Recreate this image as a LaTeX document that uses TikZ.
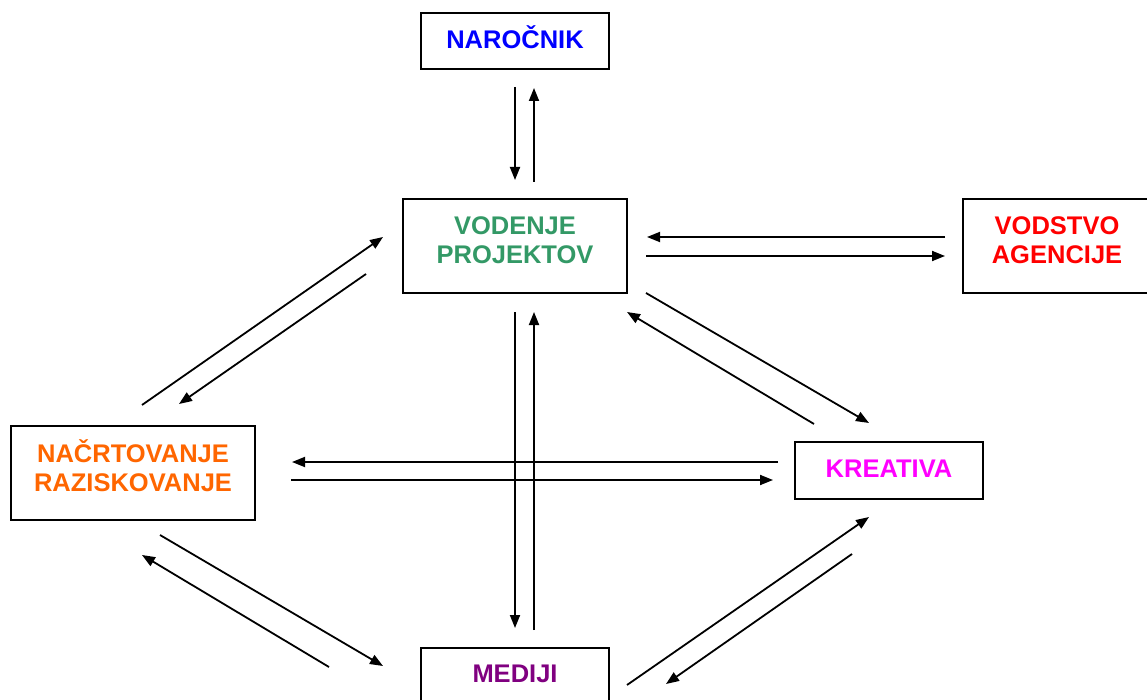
\documentclass[tikz,border=0pt]{standalone}
\usepackage{fontspec}
\setmainfont{Liberation Sans}
\usetikzlibrary{arrows.meta}
\definecolor{cblue}{HTML}{0000FF}
\definecolor{cgreen}{HTML}{339966}
\definecolor{cred}{HTML}{FF0000}
\definecolor{corange}{HTML}{FF6600}
\definecolor{cmagenta}{HTML}{FF00FF}
\definecolor{cpurple}{HTML}{800080}
\tikzset{
  box/.style={draw=black, line width=1.8pt, rectangle, inner sep=0pt, align=center,
    font=\fontsize{25.5}{29}\selectfont\bfseries, text height=18.3pt},
  twoline/.style={text height=47.3pt},
  arr/.style={line width=1.8pt, -{Triangle[length=13pt,width=10pt]}}
}
\begin{document}
\begin{tikzpicture}[x=1pt,y=-1pt]
\useasboundingbox (0,0) rectangle (1147,700);
\fill[white] (0,0) rectangle (1147,700);
% boxes
\node[box, text=cblue, minimum width=188pt, minimum height=56pt, text depth=3.6pt] (nar) at (515,41) {NAROČNIK};
\node[box, twoline, text=cgreen, minimum width=224pt, minimum height=94pt, text depth=11.3pt] (vod) at (515,246) {VODENJE\\PROJEKTOV};
\node[box, twoline, text=cred, minimum width=188pt, minimum height=94pt, text depth=11.3pt] (agn) at (1057,246) {VODSTVO\\AGENCIJE};
\node[box, twoline, text=corange, minimum width=244pt, minimum height=94pt, text depth=9.9pt] (nac) at (133,473) {NAČRTOVANJE\\RAZISKOVANJE};
\node[box, text=cmagenta, minimum width=188pt, minimum height=57pt, text depth=5.3pt] (kre) at (889,470.5) {KREATIVA};
\node[box, text=cpurple, minimum width=188pt, minimum height=57pt, text depth=7.3pt] (med) at (515,676.5) {MEDIJI};
% connector end points
\coordinate (a1s) at (515,87);  \coordinate (a1e) at (515,180);
\coordinate (a2s) at (534,182); \coordinate (a2e) at (534,88);
\coordinate (a3s) at (945,237); \coordinate (a3e) at (647,237);
\coordinate (a4s) at (646,256); \coordinate (a4e) at (945,256);
\coordinate (a5s) at (142,405); \coordinate (a5e) at (383,237);
\coordinate (a6s) at (366,274); \coordinate (a6e) at (179,404);
\coordinate (a7s) at (646,293); \coordinate (a7e) at (869,423);
\coordinate (a8s) at (814,424); \coordinate (a8e) at (627,312);
\coordinate (a9s) at (778,462); \coordinate (a9e) at (292,462);
\coordinate (a10s) at (291,480); \coordinate (a10e) at (773,480);
\coordinate (a11s) at (515,312); \coordinate (a11e) at (515,628);
\coordinate (a12s) at (534,630); \coordinate (a12e) at (534,312);
\coordinate (a13s) at (160,535); \coordinate (a13e) at (383,666);
\coordinate (a14s) at (329,667); \coordinate (a14e) at (142,555);
\coordinate (a15s) at (627,685); \coordinate (a15e) at (869,517);
\coordinate (a16s) at (852,554); \coordinate (a16e) at (666,684);
% connectors
\draw[arr] (a1s) -- (a1e);
\draw[arr] (a2s) -- (a2e);
\draw[arr] (a3s) -- (a3e);
\draw[arr] (a4s) -- (a4e);
\draw[arr] (a5s) -- (a5e);
\draw[arr] (a6s) -- (a6e);
\draw[arr] (a7s) -- (a7e);
\draw[arr] (a8s) -- (a8e);
\draw[arr] (a9s) -- (a9e);
\draw[arr] (a10s) -- (a10e);
\draw[arr] (a11s) -- (a11e);
\draw[arr] (a12s) -- (a12e);
\draw[arr] (a13s) -- (a13e);
\draw[arr] (a14s) -- (a14e);
\draw[arr] (a15s) -- (a15e);
\draw[arr] (a16s) -- (a16e);
\end{tikzpicture}
\end{document}
